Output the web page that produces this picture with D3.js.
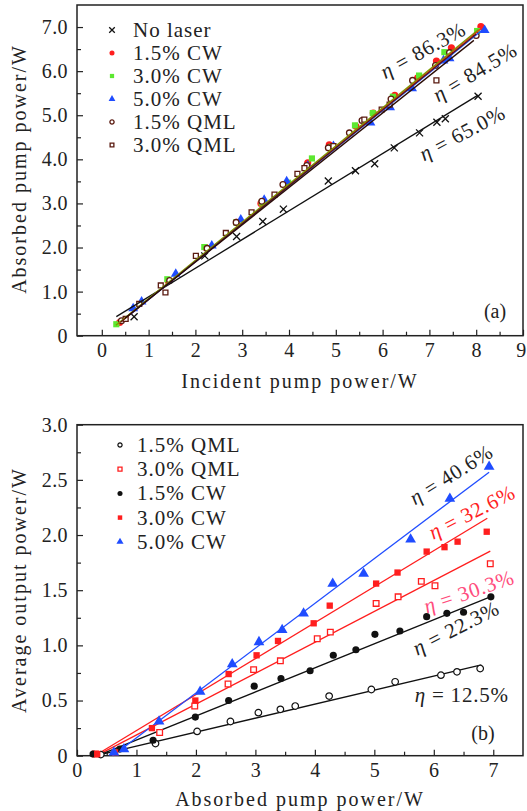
<!DOCTYPE html>
<html>
<head>
<meta charset="utf-8">
<script src="https://cdn.jsdelivr.net/npm/d3@7/dist/d3.min.js"></script>
<style>
body { margin: 0; background: #fff; }
svg { display: block; }
text { font-family: "Liberation Serif", "DejaVu Serif", serif; fill: #222; }
</style>
</head>
<body>
<div id="chart"></div>
<script>
// ---- panel (a): absorbed vs incident pump power ----
const namesA = ["No laser", "1.5% CW", "3.0% CW", "5.0% CW", "1.5% QML", "3.0% QML"]

const noLaserX = [0.69, 2.20, 2.88, 3.44, 3.88, 4.84, 5.42, 5.83, 6.25, 6.79, 7.16, 7.34, 8.04]
const noLaserY = [0.43, 1.81, 2.25, 2.59, 2.87, 3.51, 3.74, 3.90, 4.26, 4.60, 4.84, 4.92, 5.43]

const cw15AX = [0.38, 1.42, 2.22, 2.88, 3.40, 3.95, 4.40, 4.86, 5.43, 5.80, 6.26, 6.75, 7.15, 7.47, 8.10]
const cw15AY = [0.30, 1.24, 2.00, 2.57, 3.00, 3.45, 3.92, 4.33, 4.75, 5.05, 5.45, 5.85, 6.23, 6.53, 7.01]

const cw30AX = [0.31, 1.40, 2.19, 2.87, 3.42, 3.98, 4.49, 4.90, 5.41, 5.79, 6.22, 6.78, 7.32, 8.02]
const cw30AY = [0.26, 1.28, 2.01, 2.57, 3.02, 3.47, 4.02, 4.28, 4.77, 5.05, 5.42, 5.90, 6.43, 6.91]

const cw50AX = [0.67, 0.85, 1.58, 2.35, 2.97, 3.47, 3.95, 4.40, 4.95, 5.74, 6.16, 6.63, 7.30, 7.43, 8.18]
const cw50AY = [0.62, 0.77, 1.40, 2.04, 2.63, 3.08, 3.50, 3.85, 4.30, 4.83, 5.18, 5.61, 6.24, 6.29, 6.93]

const qml15AX = [0.42, 1.45, 2.25, 2.87, 3.42, 3.87, 4.38, 4.84, 5.29, 5.56, 6.18, 6.64, 7.13, 7.43, 8.00]
const qml15AY = [0.34, 1.25, 1.98, 2.57, 3.05, 3.43, 3.86, 4.26, 4.60, 4.88, 5.37, 5.79, 6.13, 6.42, 6.81]

const qml30AX = [0.51, 0.80, 1.26, 1.36, 2.01, 2.65, 3.20, 3.69, 4.18, 4.33, 4.95, 5.61, 5.98, 6.15, 7.15]
const qml30AY = [0.38, 0.72, 1.14, 0.98, 1.81, 2.33, 2.80, 3.20, 3.67, 3.80, 4.30, 4.90, 5.13, 5.24, 5.79]

// linear fits y = slope*x + icept, drawn between from..to
const fitASlope = [0.650, 0.863, 0.865, 0.858, 0.860, 0.845]
const fitAIcept = [0.23, -0.03, -0.02, -0.04, -0.04, -0.02]
const fitAFrom = [0.31, 0.35, 0.30, 0.60, 0.40, 0.50]
const fitATo = [8.04, 8.10, 8.05, 8.15, 8.00, 7.95]

const etaA = ["86.3%", "84.5%", "65.0%"]

// ---- panel (b): average output vs absorbed pump power ----
const namesB = ["1.5% QML", "3.0% QML", "1.5% CW", "3.0% CW", "5.0% CW"]

const qml15BX = [0.40, 1.32, 2.02, 2.58, 3.05, 3.42, 3.67, 4.24, 4.95, 5.35, 6.12, 6.39, 6.78]
const qml15BY = [0.01, 0.11, 0.22, 0.31, 0.39, 0.42, 0.45, 0.54, 0.60, 0.67, 0.73, 0.76, 0.79]

const qml30BX = [0.31, 1.39, 1.98, 2.54, 2.97, 3.42, 4.04, 4.26, 5.03, 5.40, 5.79, 6.02, 6.95]
const qml30BY = [0.015, 0.21, 0.45, 0.65, 0.78, 0.86, 1.06, 1.12, 1.38, 1.44, 1.58, 1.54, 1.74]

const cw15BX = [0.27, 0.72, 1.28, 1.99, 2.55, 2.98, 3.43, 3.92, 4.31, 4.69, 5.01, 5.43, 5.88, 6.22, 6.50, 6.96]
const cw15BY = [0.015, 0.06, 0.14, 0.35, 0.50, 0.63, 0.70, 0.77, 0.91, 0.96, 1.10, 1.13, 1.26, 1.29, 1.30, 1.44]

const cw30BX = [0.34, 0.64, 1.26, 1.99, 2.55, 3.02, 3.38, 3.98, 4.25, 5.03, 5.39, 5.88, 6.18, 6.40, 6.89]
const cw30BY = [0.015, 0.03, 0.25, 0.50, 0.74, 0.91, 1.04, 1.20, 1.36, 1.56, 1.66, 1.85, 1.89, 1.94, 2.03]

const cw50BX = [0.62, 0.79, 1.38, 2.07, 2.61, 3.06, 3.45, 3.81, 4.30, 4.82, 5.61, 6.27, 6.93]
const cw50BY = [0.03, 0.06, 0.31, 0.58, 0.83, 1.03, 1.14, 1.29, 1.56, 1.65, 1.96, 2.33, 2.62]

// fits y = slope*(x - xint), drawn between from..to
const fitBSlope = [0.127, 0.280, 0.218, 0.326, 0.406]
const fitBXint = [0.32, 0.33, 0.35, 0.30, 0.60]
const fitBFrom = [0.32, 0.33, 0.35, 0.30, 0.60]
const fitBTo = [6.80, 6.95, 6.96, 6.90, 6.93]

const etaB = ["12.5%", "30.3%", "22.3%", "32.6%", "40.6%"]

// ------------------------------------------------------------
const width = 527
const height = 811
const left = 77, right = 523
const svg = d3.select("#chart").append("svg")
    .attr("width", width)
    .attr("height", height)

const RED = "#ff1e1e", GREEN = "#5ce830", BLUE = "#1f4cff", BROWN = "#5a1a10"
const sym = (type, size) => d3.symbol().type(type).size(size)()

function drawAxes(x, y, xt, xm, yt, ym, yfmt) {
    const g = svg.append("g")
    const [y0, y1] = y.range()
    g.append("g").attr("transform", `translate(0,${y0})`)
        .call(d3.axisBottom(x).tickValues(xm).tickSize(-4).tickFormat(""))
    g.append("g").attr("transform", `translate(${left},0)`)
        .call(d3.axisLeft(y).tickValues(ym).tickSize(-4).tickFormat(""))
    const xg = g.append("g").attr("transform", `translate(0,${y0})`)
        .call(d3.axisBottom(x).tickValues(xt).tickSize(-6).tickPadding(7).tickFormat(d3.format("d")))
    g.append("g").attr("transform", `translate(${left},0)`)
        .call(d3.axisLeft(y).tickValues(yt).tickSize(-6).tickPadding(9).tickFormat(yfmt))
    g.selectAll(".domain").remove()
    g.selectAll("line").attr("stroke", "#222").attr("stroke-width", 1.2)
    g.selectAll("text").style("font-size", "20px").style("letter-spacing", "0.4px").attr("fill", "#222")
    // keep a label at the right edge inside the page
    xg.selectAll(".tick text").filter(d => x(d) > right - 6).attr("dx", "-2px")
    g.append("rect")
        .attr("x", left).attr("y", y1)
        .attr("width", right - left).attr("height", y0 - y1)
        .attr("fill", "none").attr("stroke", "#222").attr("stroke-width", 1.5)
}

function drawPoints(x, y, s) {
    svg.append("g").selectAll("path")
        .data(d3.zip(s.xs, s.ys))
        .join("path")
        .attr("transform", d => `translate(${x(d[0])},${y(d[1])})`)
        .attr("d", sym(s.shape, s.size))
        .attr("fill", s.fill)
        .attr("stroke", s.stroke)
        .attr("stroke-width", s.sw)
}

function drawFit(x, y, f) {
    svg.append("path")
        .datum([f.from, f.to])
        .attr("fill", "none")
        .attr("stroke", f.color)
        .attr("stroke-width", 1.3)
        .attr("d", d3.line().x(d => x(d)).y(d => y(f.fn(d))))
}

function drawLegend(series, mx, tx, y0, step) {
    const g = svg.append("g")
    series.forEach((s, i) => {
        g.append("path")
            .attr("transform", `translate(${mx},${y0 + i * step})`)
            .attr("d", sym(s.shape, s.lsize))
            .attr("fill", s.fill).attr("stroke", s.stroke).attr("stroke-width", s.sw)
        g.append("text")
            .attr("x", tx).attr("y", y0 + i * step + 7)
            .style("font-size", "21px").style("letter-spacing", "1px")
            .text(s.name)
    })
}

function drawEta(x, y, lab) {
    const t = svg.append("text")
        .attr("transform", `translate(${x(lab.x)},${y(lab.y)}) rotate(${-lab.angle})`)
        .attr("text-anchor", "middle")
        .attr("dy", "0.35em")
        .style("font-size", "21px")
        .style("letter-spacing", "0.8px")
        .attr("fill", lab.color)
    t.append("tspan").style("font-style", "italic").attr("fill", lab.color).text("η")
    t.append("tspan").attr("fill", lab.color).text(" = " + lab.text)
}

function axisTitles(xTitle, xBase, yTitle, yMid) {
    svg.append("text")
        .attr("x", 300).attr("y", xBase)
        .attr("text-anchor", "middle")
        .style("font-size", "20px").style("letter-spacing", "2px")
        .text(xTitle)
    svg.append("text")
        .attr("transform", `translate(26,${yMid}) rotate(-90)`)
        .attr("text-anchor", "middle")
        .style("font-size", "20px").style("letter-spacing", "2px")
        .text(yTitle)
}

// ---------------- panel (a) ----------------
const xA = d3.scaleLinear().domain([-0.53, 9]).range([left, right])
const yA = d3.scaleLinear().domain([0, 7.5]).range([335.7, 5])

const seriesA = [
    {xs: noLaserX, ys: noLaserY, shape: d3.symbolTimes, size: 34, lsize: 22, fill: "none", stroke: "#111", sw: 1.3},
    {xs: cw15AX, ys: cw15AY, shape: d3.symbolCircle, size: 40, lsize: 20, fill: RED, stroke: "none", sw: 0},
    {xs: cw30AX, ys: cw30AY, shape: d3.symbolSquare, size: 38, lsize: 18, fill: GREEN, stroke: "none", sw: 0},
    {xs: cw50AX, ys: cw50AY, shape: d3.symbolTriangle, size: 42, lsize: 20, fill: BLUE, stroke: "none", sw: 0},
    {xs: qml15AX, ys: qml15AY, shape: d3.symbolCircle, size: 26, lsize: 14, fill: "#fff", stroke: BROWN, sw: 1.3},
    {xs: qml30AX, ys: qml30AY, shape: d3.symbolSquare, size: 24, lsize: 14, fill: "#fff", stroke: BROWN, sw: 1.3}
]
seriesA.forEach((s, i) => s.name = namesA[i])
const fitColorsA = ["#111", RED, "#7c9a00", BLUE, BROWN, "#2a0c06"]

drawAxes(xA, yA, d3.range(0, 10), d3.range(0.5, 9, 1), d3.range(0, 8),
    d3.range(0.5, 7.5, 1), d => d === 0 ? "0" : d3.format(".1f")(d))
seriesA.forEach(s => drawPoints(xA, yA, s))
fitASlope.forEach((m, i) => drawFit(xA, yA, {
    from: fitAFrom[i], to: fitATo[i], color: fitColorsA[i], fn: v => m * v + fitAIcept[i]
}))
drawLegend(seriesA, 112, 133, 30, 23)
const etaAPos = [{x: 6.86, y: 6.48, angle: 29}, {x: 7.97, y: 5.98, angle: 31}, {x: 7.70, y: 4.60, angle: 28}]
etaA.forEach((t, i) => drawEta(xA, yA, {...etaAPos[i], text: t, color: "#222"}))
svg.append("text").attr("x", 495).attr("y", 318).attr("text-anchor", "middle")
    .style("font-size", "20px").text("(a)")
axisTitles("Incident pump power/W", 388, "Absorbed pump power/W", 169)

// ---------------- panel (b) ----------------
const xB = d3.scaleLinear().domain([0, 7.5]).range([left, right])
const yB = d3.scaleLinear().domain([0, 3]).range([755.7, 424.7])

const seriesB = [
    {xs: qml15BX, ys: qml15BY, shape: d3.symbolCircle, size: 34, lsize: 14, fill: "#fff", stroke: "#111", sw: 1.2},
    {xs: qml30BX, ys: qml30BY, shape: d3.symbolSquare, size: 32, lsize: 16, fill: "#fff", stroke: RED, sw: 1.3},
    {xs: cw15BX, ys: cw15BY, shape: d3.symbolCircle, size: 40, lsize: 20, fill: "#111", stroke: "none", sw: 0},
    {xs: cw30BX, ys: cw30BY, shape: d3.symbolSquare, size: 40, lsize: 20, fill: RED, stroke: "none", sw: 0},
    {xs: cw50BX, ys: cw50BY, shape: d3.symbolTriangle, size: 50, lsize: 22, fill: BLUE, stroke: "none", sw: 0}
]
seriesB.forEach((s, i) => s.name = namesB[i])
const fitColorsB = ["#111", RED, "#111", RED, BLUE]

drawAxes(xB, yB, d3.range(0, 8), d3.range(0.5, 7.5, 1), d3.range(0, 3.01, 0.5),
    d3.range(0.25, 3, 0.5), d => d === 0 ? "0" : d3.format(".1f")(d))
fitBSlope.forEach((m, i) => drawFit(xB, yB, {
    from: fitBFrom[i], to: fitBTo[i], color: fitColorsB[i], fn: v => m * (v - fitBXint[i])
}))
seriesB.forEach(s => drawPoints(xB, yB, s))
drawLegend(seriesB, 120, 137, 445, 24.2)
const etaBPos = [
    {x: 6.47, y: 0.55, angle: 0, color: "#222"},
    {x: 6.59, y: 1.49, angle: 19, color: "#ff4d7d"},
    {x: 6.37, y: 1.16, angle: 27, color: "#222"},
    {x: 6.64, y: 2.21, angle: 27, color: RED},
    {x: 6.29, y: 2.55, angle: 32, color: "#222"}
]
etaB.forEach((t, i) => drawEta(xB, yB, {...etaBPos[i], text: t}))
svg.append("text").attr("x", 483).attr("y", 740).attr("text-anchor", "middle")
    .style("font-size", "20px").text("(b)")
axisTitles("Absorbed pump power/W", 806, "Average output power/W", 590)
</script>
</body>
</html>
